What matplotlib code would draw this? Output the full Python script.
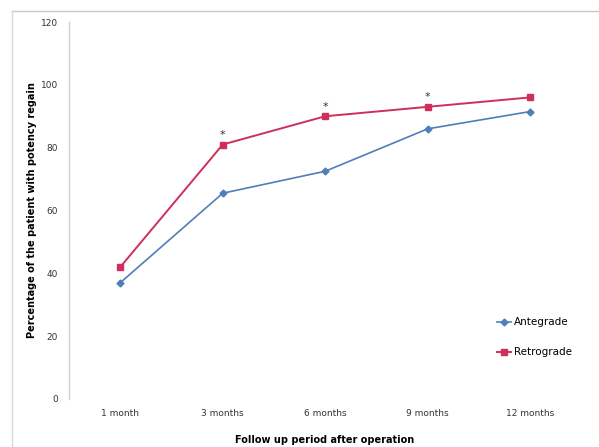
import matplotlib
matplotlib.use("Agg")
import matplotlib.pyplot as plt
from matplotlib.lines import Line2D

periods = ["1 month", "3 months", "6 months", "9 months", "12 months"]
antegrade = [37, 65.5, 72.5, 86, 91.5]
retrograde = [42, 81, 90, 93, 96]
significant = [False, True, True, True, False]
y_ticks = [0, 20, 40, 60, 80, 100, 120]

blue = "#4f7fb8"
red = "#cf2f5a"

fig = plt.figure(figsize=(5.99, 4.47), dpi=100)
fig.patch.set_facecolor("white")

# outer chart frame (top and left edges)
fig.add_artist(Line2D([12/599, 1.0], [1 - 11/447, 1 - 11/447], color="#c8c8c8", lw=1.0))
fig.add_artist(Line2D([12/599, 12/599], [0.0, 1 - 11/447], color="#d8d8d8", lw=1.0))

ax = fig.add_axes([69/599, 1 - 399/447, (581.5 - 69)/599, (399 - 22)/447])
x = list(range(len(periods)))
ax.plot(x, antegrade, color=blue, lw=1.2, marker="D", ms=3.5, mfc=blue, mec=blue, label="Antegrade")
ax.plot(x, retrograde, color=red, lw=1.4, marker="s", ms=5, mfc=red, mec=red, label="Retrograde")

for xi, yi, s in zip(x, retrograde, significant):
    if s:
        ax.text(xi, yi + 3, "*", ha="center", va="center", fontsize=8, color="#333333")

ax.set_xlim(-0.5, len(periods) - 0.5)
ax.set_ylim(0, 120)
ax.set_xticks(x)
ax.set_xticklabels(periods, fontsize=6.5, color="#333333")
ax.set_yticks(y_ticks)
ax.set_yticklabels([str(v) for v in y_ticks], fontsize=6.5, color="#333333")
ax.tick_params(axis="both", length=0)
ax.tick_params(axis="y", pad=8)
ax.tick_params(axis="x", pad=7)
for side in ["top", "right", "bottom"]:
    ax.spines[side].set_visible(False)
ax.spines["left"].set_color("#d0d0d0")
ax.spines["left"].set_linewidth(1.0)

fig.text(32/599, 1 - 210/447, "Percentage of the patient with potency regain", rotation=90,
         ha="center", va="center", fontsize=7, fontweight="bold")
fig.text(325/599, 1 - 440/447, "Follow up period after operation",
         ha="center", va="center", fontsize=7, fontweight="bold")

ax.legend(loc="lower right", bbox_to_anchor=(1.0, 0.086), frameon=False, fontsize=7.5,
          handlelength=1.3, handletextpad=0.3, labelspacing=1.9)

fig.savefig("out.png", dpi=100, facecolor="white")
